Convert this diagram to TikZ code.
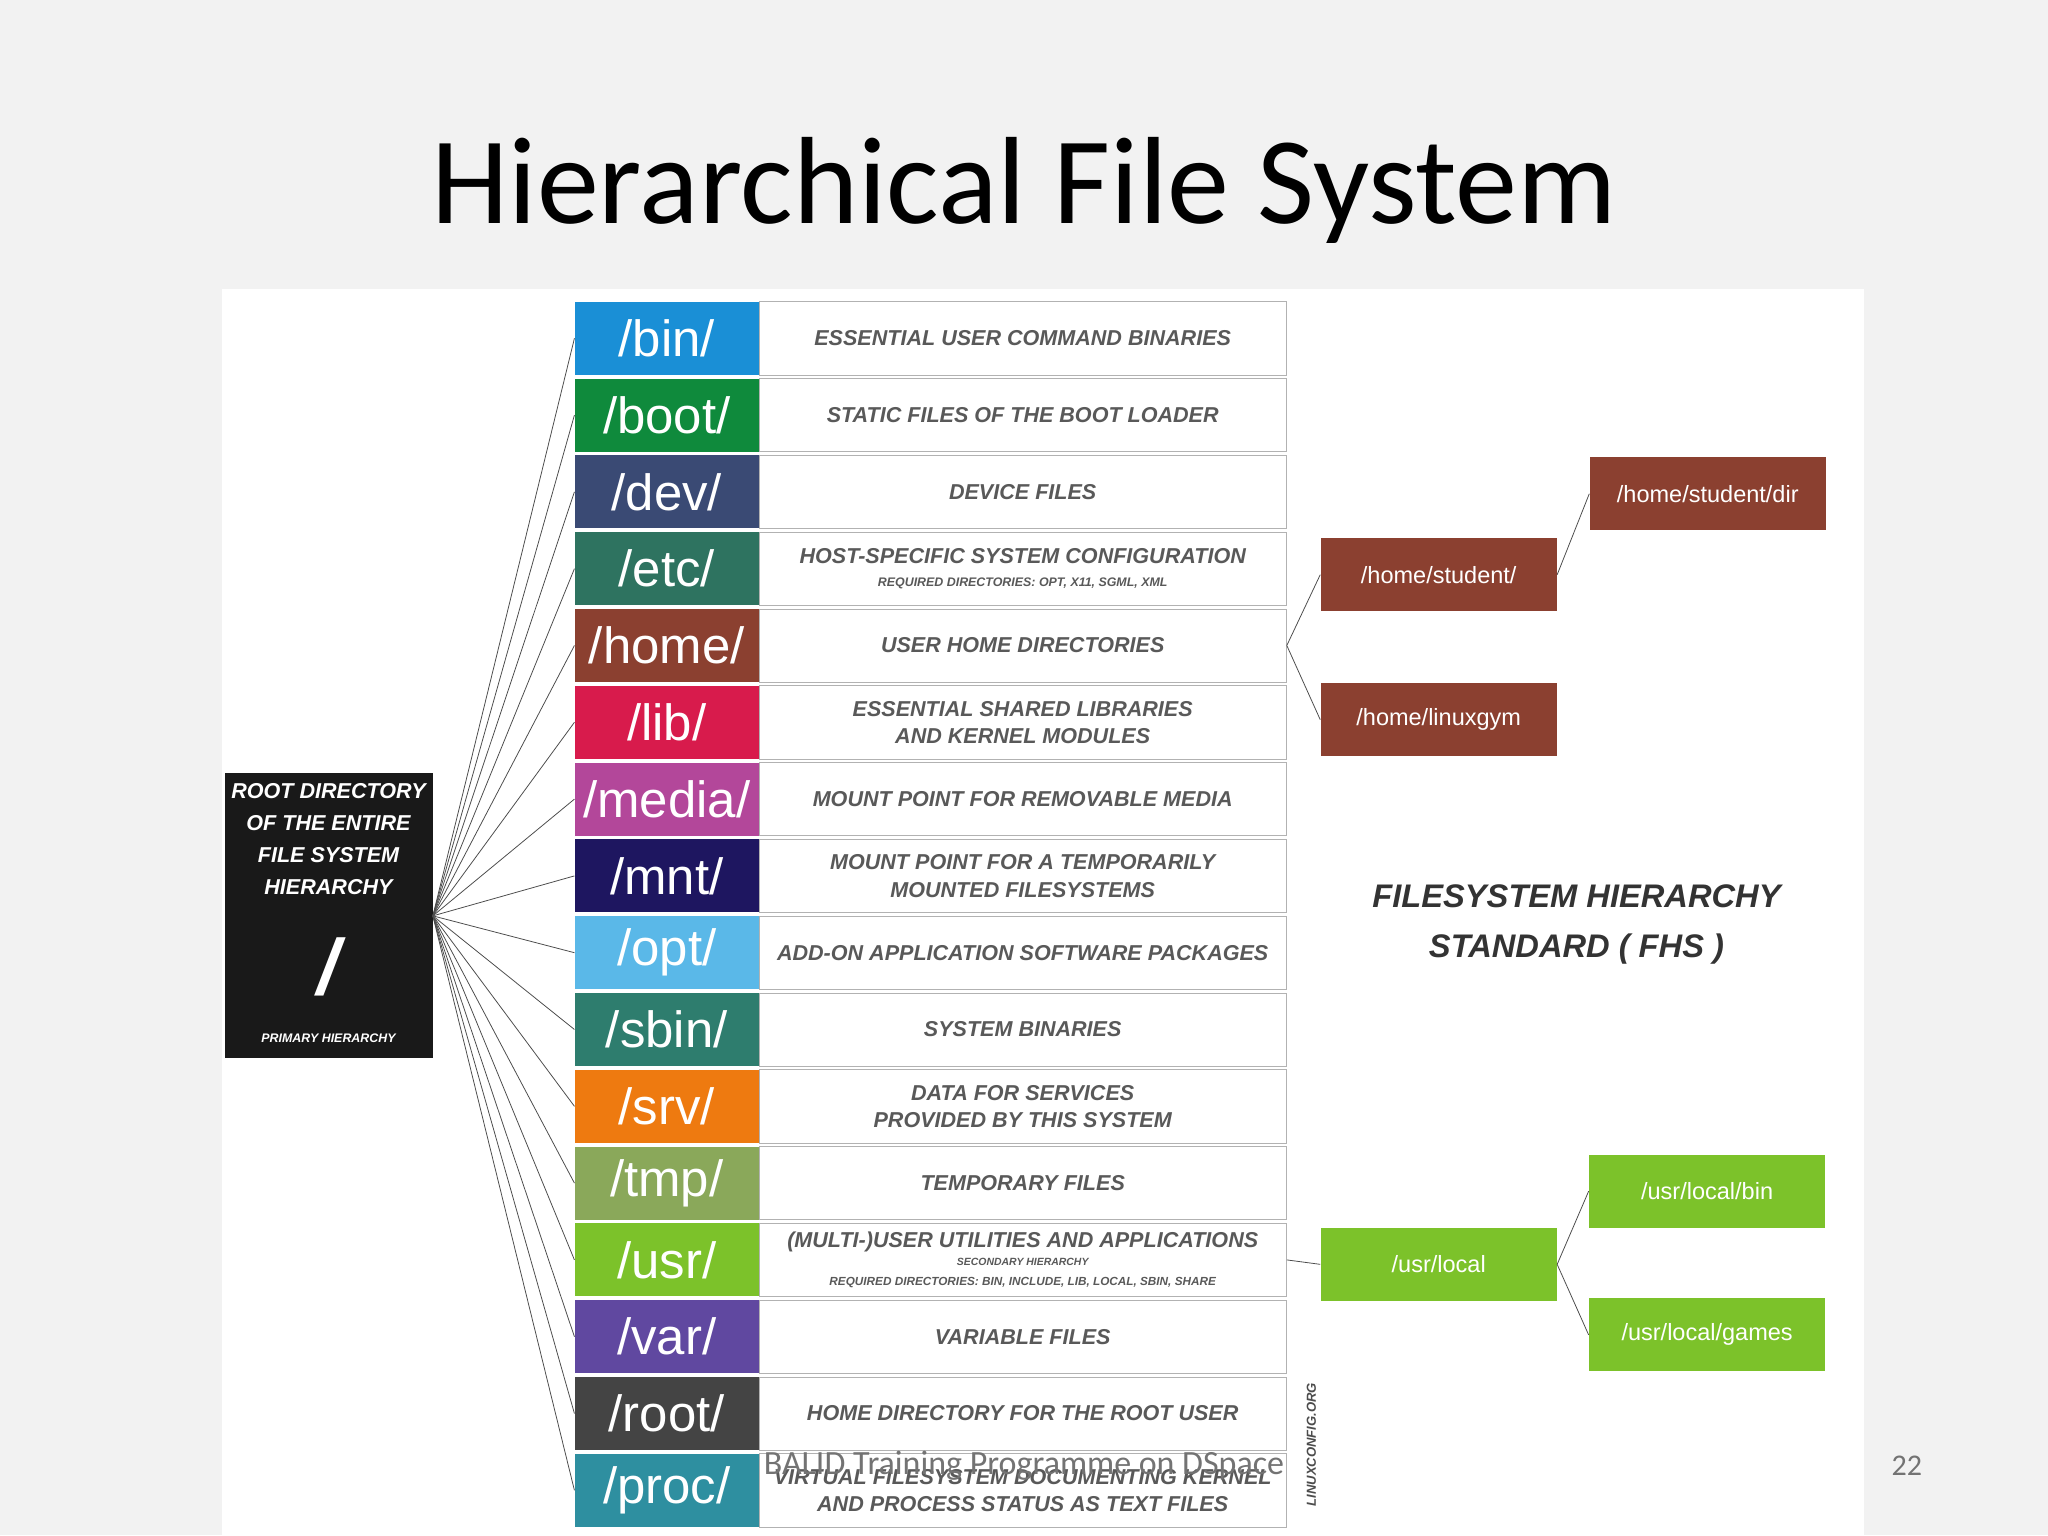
\documentclass[tikz,border=0pt]{standalone}
\usepackage{fontspec}
\setmainfont{Liberation Sans}
\newfontfamily\titlefont{Carlito}
\begin{document}
\begin{tikzpicture}[x=1pt,y=-1pt,
  dirbox/.style={minimum width=141pt,minimum height=56pt,inner sep=0pt,text=white,font=\fontsize{39}{40}\selectfont},
  descbox/.style={draw=gray!60,fill=white,minimum width=404pt,minimum height=56pt,inner sep=0pt,text=black!65,font=\fontsize{16.5}{21}\selectfont\bfseries\itshape,align=center},
  sub/.style={minimum width=181pt,minimum height=56pt,inner sep=0pt,text=white,font=\fontsize{18}{20}\selectfont},
  lnk/.style={draw=black!70,line width=0.6pt}]
\useasboundingbox (0,0) rectangle (1568,1175.5);
\fill[black!5] (0,0) rectangle (1568,1175.5);
\node[font=\titlefont\fontsize{95}{100}\selectfont] (title) at (784,146) {Hierarchical File System};
\fill[white] (170,221) rectangle (1427,1175.5);
\definecolor{c1}{HTML}{1A8FD6}\definecolor{c2}{HTML}{0F8A3C}\definecolor{c3}{HTML}{3A4A74}
\definecolor{c4}{HTML}{2E7360}\definecolor{c5}{HTML}{8B4030}\definecolor{c6}{HTML}{D81B4C}
\definecolor{c7}{HTML}{B3479A}\definecolor{c8}{HTML}{1E1660}\definecolor{c9}{HTML}{5AB8E8}
\definecolor{c10}{HTML}{2E7D6E}\definecolor{c11}{HTML}{EE7A10}\definecolor{c12}{HTML}{8AA85A}
\definecolor{c13}{HTML}{7CC22A}\definecolor{c14}{HTML}{6048A0}\definecolor{c15}{HTML}{444444}
\definecolor{c16}{HTML}{2E8FA0}
\node[fill=black!90,minimum width=159pt,minimum height=218pt,inner sep=0pt,anchor=north west] (root) at (172,592) {};
\node[text=white,align=center,font=\bfseries\itshape\fontsize{16.5}{24.5}\selectfont,anchor=north] (rootlbl) at (251.5,596) {ROOT DIRECTORY\\OF THE ENTIRE\\FILE SYSTEM\\HIERARCHY};
\node[text=white,font=\bfseries\itshape\fontsize{60}{60}\selectfont] (slash) at (251.5,740) {/};
\node[text=white,font=\bfseries\itshape\fontsize{9.5}{10}\selectfont] (prim) at (251.5,795) {PRIMARY HIERARCHY};
\foreach \i/\d/\t in {
 1/bin/{ESSENTIAL USER COMMAND BINARIES},
 2/boot/{STATIC FILES OF THE BOOT LOADER},
 3/dev/{DEVICE FILES},
 4/etc/{HOST-SPECIFIC SYSTEM CONFIGURATION\\[-3pt]{\fontsize{9.5}{10}\selectfont REQUIRED DIRECTORIES: OPT, X11, SGML, XML}},
 5/home/{USER HOME DIRECTORIES},
 6/lib/{ESSENTIAL SHARED LIBRARIES\\AND KERNEL MODULES},
 7/media/{MOUNT POINT FOR REMOVABLE MEDIA},
 8/mnt/{MOUNT POINT FOR A TEMPORARILY\\MOUNTED FILESYSTEMS},
 9/opt/{ADD-ON APPLICATION SOFTWARE PACKAGES},
 10/sbin/{SYSTEM BINARIES},
 11/srv/{DATA FOR SERVICES\\PROVIDED BY THIS SYSTEM},
 12/tmp/{TEMPORARY FILES},
 13/usr/{(MULTI-)USER UTILITIES AND APPLICATIONS\\[-7pt]{\fontsize{8}{9}\selectfont SECONDARY HIERARCHY}\\[-6pt]{\fontsize{9}{10}\selectfont REQUIRED DIRECTORIES: BIN, INCLUDE, LIB, LOCAL, SBIN, SHARE}},
 14/var/{VARIABLE FILES},
 15/root/{HOME DIRECTORY FOR THE ROOT USER},
 16/proc/{VIRTUAL FILESYSTEM DOCUMENTING KERNEL\\AND PROCESS STATUS AS TEXT FILES}} {
  \pgfmathsetmacro\yy{231+58.8*(\i-1)+28}
  \node[dirbox,fill=c\i] (d\i) at (510.5,\yy) {/\d/};
  \node[descbox] (t\i) at (783,\yy) {\t};
  \draw[lnk] (root.east) -- (d\i.west);
}
\node[sub,fill=c5] (hs) at (1101.5,440) {/home/student/};
\node[sub,fill=c5] (hl) at (1101.5,551) {/home/linuxgym};
\node[sub,fill=c5] (hsd) at (1307.5,378) {/home/student/dir};
\draw[lnk] (t5.east) -- (hs.west);
\draw[lnk] (t5.east) -- (hl.west);
\draw[lnk] (hs.east) -- (hsd.west);
\node[sub,fill=c13] (ul) at (1101.5,968) {/usr/local};
\node[sub,fill=c13] (ub) at (1307,912) {/usr/local/bin};
\node[sub,fill=c13] (ug) at (1307,1022) {/usr/local/games};
\draw[lnk] (t13.east) -- (ul.west);
\draw[lnk] (ul.east) -- (ub.west);
\draw[lnk] (ul.east) -- (ug.west);
\node[align=center,font=\bfseries\itshape\fontsize{25}{38}\selectfont,text=black!80] (fhs) at (1207,708) {FILESYSTEM HIERARCHY\\STANDARD ( FHS )};
\node[rotate=90,font=\bfseries\itshape\fontsize{10}{10}\selectfont,text=black!70] (lc) at (1004,1106) {LINUXCONFIG.ORG};
\node[font=\titlefont\fontsize{26}{27}\selectfont,text=black!55] (foot) at (784,1122) {BALID Training Programme on DSpace};
\node[font=\titlefont\fontsize{23}{24}\selectfont,text=black!55] (pg) at (1460,1122) {22};
\end{tikzpicture}
\end{document}
